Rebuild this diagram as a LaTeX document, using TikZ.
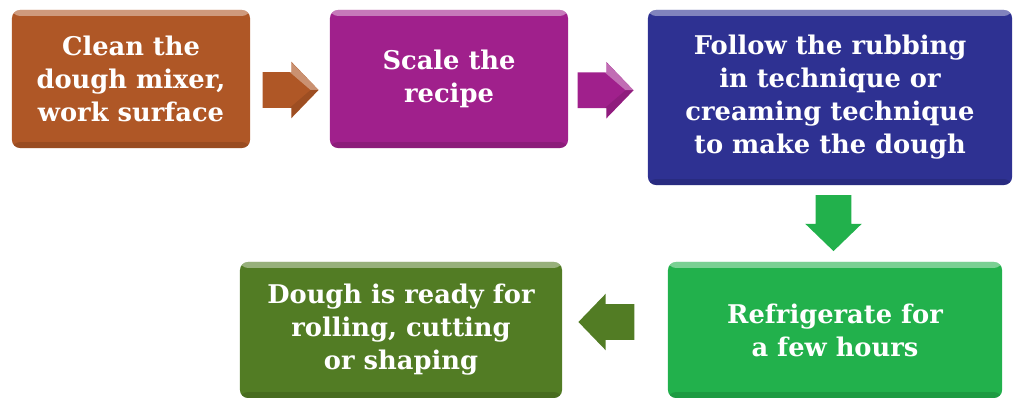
\documentclass[tikz,border=0pt]{standalone}
\usepackage{fontspec}
\setmainfont{DejaVu Serif}
\usetikzlibrary{shapes.arrows,calc}
\definecolor{stepbrown}{RGB}{175,87,38}
\definecolor{stepmagenta}{RGB}{160,32,140}
\definecolor{stepblue}{RGB}{46,49,146}
\definecolor{stepgreen}{RGB}{34,177,76}
\definecolor{stepolive}{RGB}{82,124,36}

\begin{document}
\begin{tikzpicture}[
  x=0.025cm, y=-0.025cm,
  stepbox/.style={rounded corners=0.2cm, align=center, text=white, inner sep=0pt,
                  font=\fontsize{18.3}{23.5}\selectfont\bfseries,
                  path picture={
                    \fill[white, opacity=0.4] (path picture bounding box.north west)
                      rectangle ([yshift=-0.15cm]path picture bounding box.north east);
                    \fill[black, opacity=0.12] (path picture bounding box.south west)
                      rectangle ([yshift=0.15cm]path picture bounding box.south east);}},
  blockarr/.style={single arrow, minimum height=1.4cm, inner xsep=0pt, inner ysep=0.4375cm,
                   single arrow head extend=0.2625cm, single arrow tip angle=92,
                   path picture={
                     \fill[white, opacity=0.35] (path picture bounding box.east)
                       -- ([xshift=-0.7cm]path picture bounding box.north east)
                       -- ([xshift=-0.85cm,yshift=-0.15cm]path picture bounding box.north east)
                       -- ([xshift=-0.2cm]path picture bounding box.east) -- cycle;
                     \fill[black, opacity=0.1] (path picture bounding box.east)
                       -- ([xshift=-0.7cm]path picture bounding box.south east)
                       -- ([xshift=-0.85cm,yshift=0.15cm]path picture bounding box.south east)
                       -- ([xshift=-0.2cm]path picture bounding box.east) -- cycle;}}
]
\useasboundingbox (0,0) rectangle (1019,398);

% ===== Top row =====
\node[stepbox, fill=stepbrown, minimum width=5.95cm, minimum height=3.45cm]
  (clean) at (131,79) {Clean the\\dough mixer,\\work surface};
\node[stepbox, fill=stepmagenta, minimum width=5.95cm, minimum height=3.45cm]
  (scale) at (449,79) {Scale the\\recipe};
\node[stepbox, fill=stepblue, minimum width=9.1cm, minimum height=4.375cm]
  (mix) at (830,97.5) {Follow the rubbing\\in technique or\\creaming technique\\to make the dough};

% ===== Bottom row =====
\node[stepbox, fill=stepgreen, minimum width=8.35cm, minimum height=3.4cm]
  (chill) at (835,330) {Refrigerate for\\a few hours};
\node[stepbox, fill=stepolive, minimum width=8.05cm, minimum height=3.4cm]
  (ready) at (401,330) {Dough is ready for\\rolling, cutting\\or shaping};

% ===== Block arrows =====
\node[blockarr, fill=stepbrown] (a1) at ($(clean.east)!0.5!(scale.west)+(-8,11)$) {};
\node[blockarr, fill=stepmagenta] (a2) at ($(scale.east)!0.5!(mix.west)+(-11,2)$) {};
\node[blockarr, fill=stepgreen, rotate=-90] (a3) at ($(mix.south)!0.5!(chill.north)+(1,-9)$) {};
\node[blockarr, fill=stepolive, xscale=-1] (a4) at ($(chill.west)!0.5!(ready.east)+(0,-8)$) {};

\end{tikzpicture}
\end{document}
